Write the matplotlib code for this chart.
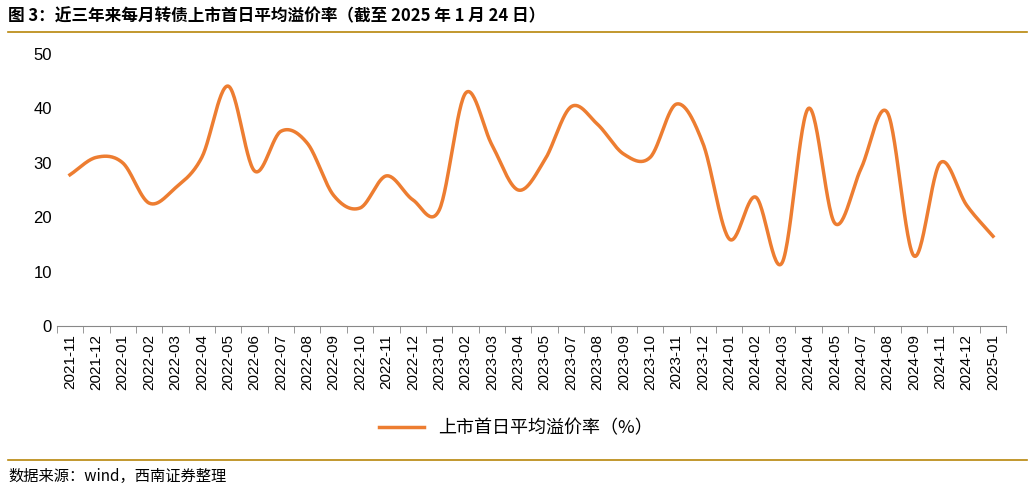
import matplotlib
matplotlib.use("Agg")
import matplotlib.pyplot as plt
import numpy as np
from matplotlib.lines import Line2D

plt.rcParams['font.family'] = ['Noto Sans CJK SC', 'DejaVu Sans']

months = ["2021-11","2021-12","2022-01","2022-02","2022-03","2022-04","2022-05","2022-06","2022-07","2022-08",
          "2022-09","2022-10","2022-11","2022-12","2023-01","2023-02","2023-03","2023-04","2023-05","2023-07",
          "2023-08","2023-09","2023-10","2023-11","2023-12","2024-01","2024-02","2024-03","2024-04","2024-05",
          "2024-07","2024-08","2024-09","2024-11","2024-12","2025-01"]
premium = [27.8,31.0,30.0,22.6,25.4,31.0,44.1,28.5,35.8,33.6,
           24.0,21.7,27.6,23.2,21.3,42.8,33.3,25.0,30.5,40.3,
           37.1,31.6,31.0,40.8,33.6,16.0,23.7,11.6,40.0,18.9,
           29.0,39.2,12.9,30.0,22.2,16.5]

def catmull(x, y, n=30):
    x = np.asarray(x, float); y = np.asarray(y, float)
    P = np.column_stack([x, y])
    P = np.vstack([P[0]*2-P[1], P, P[-1]*2-P[-2]])
    out = []
    t = np.linspace(0, 1, n, endpoint=False)[:, None]
    for i in range(1, len(P)-2):
        p0, p1, p2, p3 = P[i-1], P[i], P[i+1], P[i+2]
        c1 = p1 + (p2-p0)/6; c2 = p2 - (p3-p1)/6
        out.append((1-t)**3*p1 + 3*(1-t)**2*t*c1 + 3*(1-t)*t**2*c2 + t**3*p2)
    out.append(P[-2][None, :])
    out = np.vstack(out)
    return out[:, 0], out[:, 1]

fig = plt.figure(figsize=(10.32, 4.91), dpi=100)
ax = fig.add_axes([0.055, 0.336, 0.92, 0.554])
xs, ys = catmull(np.arange(len(premium)), premium)
color = '#ED7D31'
ax.plot(xs, ys, color=color, lw=2.5)
ax.set_xlim(-0.5, len(months)-0.5)
ax.set_ylim(0, 50)
ax.set_yticks(range(0, 51, 10))
ax.set_xticks(range(len(months)))
ax.set_xticklabels(months, rotation=90, fontsize=11, family=['Liberation Sans'])
ax.set_xticks(np.arange(-0.5, len(months)), minor=True)
ax.tick_params(axis='x', which='major', length=0, pad=6)
ax.tick_params(axis='x', which='minor', length=5, color='#888888')
ax.tick_params(axis='y', length=0, labelsize=12)
for l in ax.get_yticklabels():
    l.set_family(['Liberation Sans'])
for s in ['top', 'right', 'left']:
    ax.spines[s].set_visible(False)
ax.spines['bottom'].set_color('#888888')

fig.legend([Line2D([], [], color=color, lw=2.5)], ['上市首日平均溢价率（%）'],
           loc='center', bbox_to_anchor=(0.5, 0.128), frameon=False, fontsize=13, handlelength=2.5)

fig.text(0.008, 0.967, '图 3：近三年来每月转债上市首日平均溢价率（截至 2025 年 1 月 24 日）',
         fontsize=12, fontweight='bold', va='center')
fig.add_artist(Line2D([0.008, 0.995], [0.935, 0.935], color='#B8860B', lw=1.2, transform=fig.transFigure))
fig.add_artist(Line2D([0.008, 0.995], [0.063, 0.063], color='#B8860B', lw=1.2, transform=fig.transFigure))
fig.text(0.008, 0.03, '数据来源：wind，西南证券整理', fontsize=11, style='italic', va='center')

fig.savefig('out.png', dpi=100)
